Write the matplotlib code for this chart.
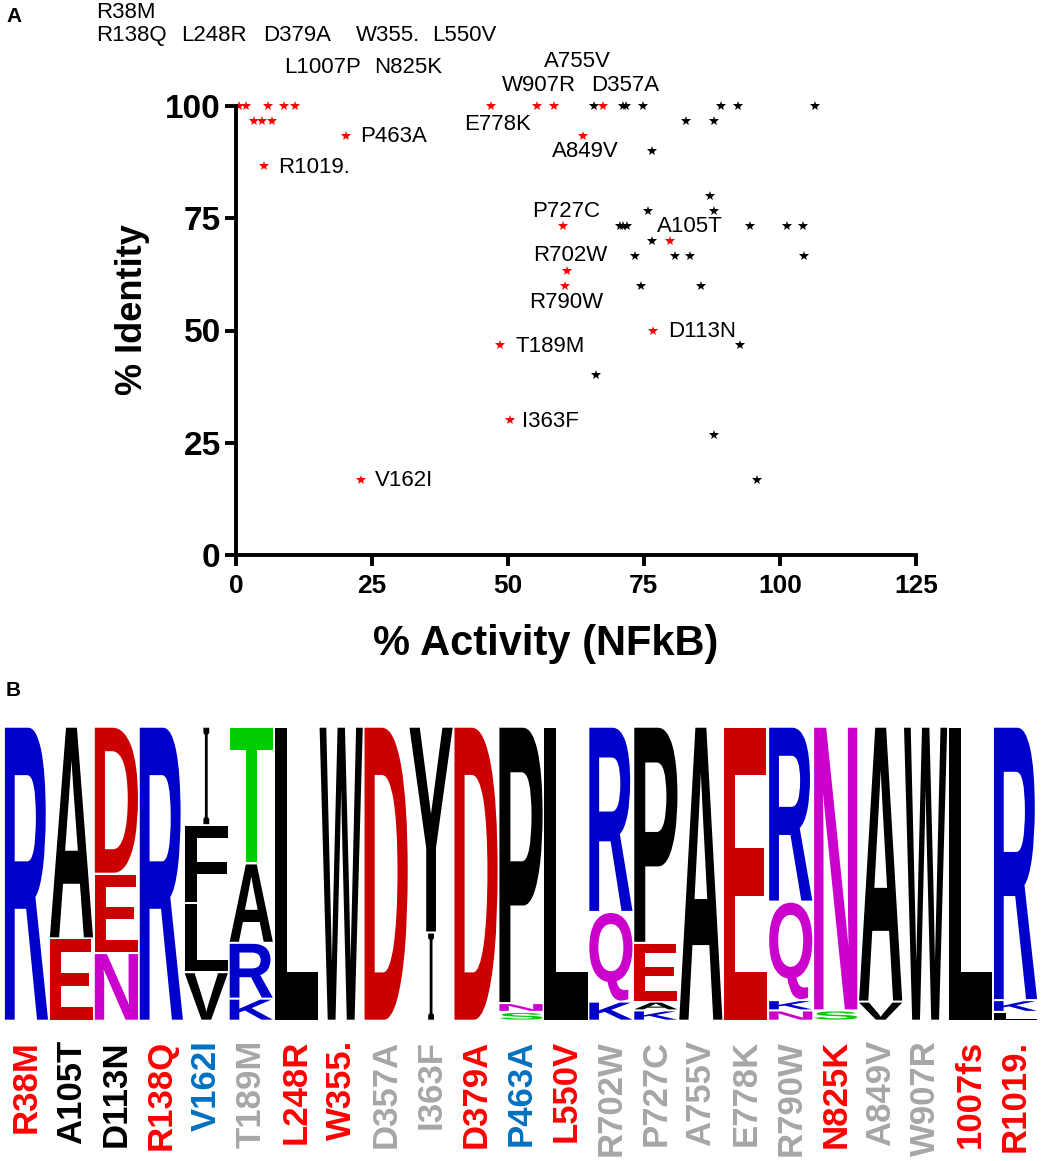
import matplotlib
matplotlib.use("Agg")
import matplotlib.pyplot as plt
from matplotlib.textpath import TextPath
from matplotlib.patches import PathPatch
from matplotlib.font_manager import FontProperties
from matplotlib.transforms import Affine2D

plt.rcParams['font.family'] = ['Liberation Sans', 'DejaVu Sans']

# ---- panel A data: % activity (NFkB) vs % identity ----
red_labels = ["R38M", "R138Q", "L248R", "D379A", "W355.", "L550V", "L1007P", "N825K",
              "E778K", "W907R", "A755V", "D357A", "P463A", "R1019.", "A849V", "P727C",
              "A105T", "R702W", "R790W", "D113N", "T189M", "I363F", "V162I"]
red_x = [0.6, 1.9, 5.9, 8.9, 10.9, 3.4, 4.8, 6.6,
         46.9, 55.4, 58.5, 67.5, 20.2, 5.1, 63.7, 60.2,
         79.8, 60.9, 60.5, 76.7, 48.6, 50.3, 23.0]
red_y = [100, 100, 100, 100, 100, 96.7, 96.7, 96.7,
         100, 100, 100, 100, 93.3, 86.7, 93.3, 73.3,
         70, 63.3, 60, 50, 46.7, 30, 16.7]

black_x = [65.9, 71.1, 71.6, 74.9, 89.2, 92.2, 106.5,
           82.7, 87.8, 76.5, 87.2, 75.8, 87.8,
           70.5, 71.2, 71.9, 94.4, 101.2, 104.2, 76.4,
           73.4, 80.7, 83.5, 104.4, 74.4, 85.4,
           92.7, 66.2, 87.8, 95.8]
black_y = [100, 100, 100, 100, 100, 100, 100,
           96.7, 96.7, 90, 80, 76.7, 76.7,
           73.3, 73.3, 73.3, 73.3, 73.3, 73.3, 70,
           66.7, 66.7, 66.7, 66.7, 60, 60,
           46.7, 40, 26.7, 16.7]

# where each label text sits (left edge, vertical centre), data units
label_pos = {
    "R38M": (-25.7, 120.8), "R138Q": (-25.7, 115.8), "L248R": (-10.0, 115.8),
    "D379A": (5.0, 115.8), "W355.": (22.0, 115.8), "L550V": (36.1, 115.8),
    "L1007P": (8.9, 108.5), "N825K": (25.4, 108.5), "A755V": (56.7, 109.8),
    "W907R": (48.9, 104.5), "D357A": (65.2, 104.5), "E778K": (41.9, 95.8),
    "A849V": (58.1, 89.8), "P463A": (22.8, 93.1), "R1019.": (7.8, 86.4),
    "P727C": (54.4, 76.4), "A105T": (77.4, 73.1), "R702W": (54.6, 66.6),
    "R790W": (53.9, 56.3), "D113N": (79.4, 49.7), "T189M": (51.3, 46.5),
    "I363F": (52.6, 29.8), "V162I": (25.6, 16.5),
}

x_ticks = [0, 25, 50, 75, 100, 125]
y_ticks = [0, 25, 50, 75, 100]

# ---- panel B data: sequence logo, letters listed top to bottom ----
logo_letters = ["R", "AE", "DEN", "R", "IFLV", "TARK", "L", "W", "D", "YI", "D",
                "PNS", "L", "RQK", "PEAK", "A", "E", "RQKN", "NS", "AV", "W", "L", "RKL"]
logo_heights = [[1.0], [0.72, 0.28], [0.50, 0.27, 0.23], [1.0],
                [0.335, 0.265, 0.235, 0.165], [0.465, 0.27, 0.19, 0.075],
                [1.0], [1.0], [1.0], [0.70, 0.30], [1.0],
                [0.94, 0.03, 0.03], [1.0], [0.63, 0.305, 0.065],
                [0.735, 0.20, 0.03, 0.035], [1.0], [1.0],
                [0.595, 0.335, 0.035, 0.035], [0.965, 0.035], [0.935, 0.065],
                [1.0], [1.0], [0.93, 0.04, 0.03]]
pos_labels = ["R38M", "A105T", "D113N", "R138Q", "V162I", "T189M", "L248R", "W355.",
              "D357A", "I363F", "D379A", "P463A", "L550V", "R702W", "P727C", "A755V",
              "E778K", "R790W", "N825K", "A849V", "W907R", "1007fs", "R1019."]
pos_label_colors = ["red", "black", "black", "red", "blue", "gray", "red", "red",
                    "gray", "gray", "red", "blue", "red", "gray", "gray", "gray",
                    "gray", "gray", "red", "gray", "gray", "red", "red"]

label_rgb = {"red": "#FF0000", "black": "#000000", "gray": "#A6A6A6", "blue": "#0070C0"}
aa_color = {"R": "#0000CC", "K": "#0000CC", "D": "#CC0000", "E": "#CC0000",
            "N": "#CC00CC", "Q": "#CC00CC", "T": "#00CC00", "S": "#00CC00"}

W, H = 1043, 1161
fig = plt.figure(figsize=(W / 100, H / 100), dpi=100)

# ---------------- panel A ----------------
ax = fig.add_axes([236 / W, 1 - 555 / H, 680 / W, 449 / H])
ax.plot(black_x, black_y, '*', color='black', ms=7.5, mew=0, clip_on=False)
ax.plot(red_x, red_y, '*', color='#FF0000', ms=7.5, mew=0, clip_on=False)
for lab in red_labels:
    tx, ty = label_pos[lab]
    ax.text(tx, ty, lab, fontsize=16, ha='left', va='center', clip_on=False)

ax.set_xlim(0, 125)
ax.set_ylim(0, 100)
ax.set_xticks(x_ticks)
ax.set_yticks(y_ticks)
for s in ['top', 'right']:
    ax.spines[s].set_visible(False)
for s in ['left', 'bottom']:
    ax.spines[s].set_linewidth(2.8)
ax.tick_params(width=2.8, length=8, direction='out')
ax.tick_params(axis='x', labelsize=19, pad=6)
ax.tick_params(axis='y', labelsize=24, pad=3)
for t in ax.get_xticklabels() + ax.get_yticklabels():
    t.set_fontweight('bold')

fig.text(133 / W, 1 - 310 / H, "% Identity", rotation=90, fontsize=26,
         fontweight='bold', ha='center', va='center')
fig.text(546 / W, 1 - 644 / H, "% Activity (NFkB)", fontsize=30,
         fontweight='bold', ha='center', va='center')
fig.text(6 / W, 1 - 17 / H, "A", fontsize=15, fontweight='bold', va='center')
fig.text(6 / W, 1 - 690 / H, "B", fontsize=15, fontweight='bold', va='center')

# ---------------- panel B ----------------
ax2 = fig.add_axes([4 / W, 1 - 1020.7 / H, 1034 / W, 294 / H])
ax2.set_xlim(0, len(logo_letters))
ax2.set_ylim(0, 1)
ax2.axis('off')

sans_bold = FontProperties(family='Liberation Sans', weight='bold')
serif_bold = FontProperties(family='Liberation Serif', weight='bold')


def draw_letter(ch, x0, y0, w, h, color):
    prop = serif_bold if ch == "I" else sans_bold
    tp = TextPath((0, 0), ch, size=1, prop=prop)
    bb = tp.get_extents()
    tr = (Affine2D().translate(-bb.x0, -bb.y0)
          .scale(w / bb.width, h / bb.height).translate(x0, y0))
    ax2.add_patch(PathPatch(tr.transform_path(tp), facecolor=color,
                            edgecolor='none', clip_on=False))


gap = 0.007
for i, (letters, heights) in enumerate(zip(logo_letters, logo_heights)):
    y = 0.0
    for ch, hgt in zip(reversed(letters), reversed(heights)):
        w = 0.13 if ch == "I" else 0.96
        draw_letter(ch, i + 0.5 - w / 2, y + gap / 2, w, hgt - gap,
                    aa_color.get(ch, "#000000"))
        y += hgt

for i, (lab, col) in enumerate(zip(pos_labels, pos_label_colors)):
    ax2.text(i + 0.5, -0.066, lab, rotation=90, ha='center', va='top',
             fontsize=25, fontweight='bold', color=label_rgb[col], clip_on=False)

fig.savefig("out.png", dpi=100)
